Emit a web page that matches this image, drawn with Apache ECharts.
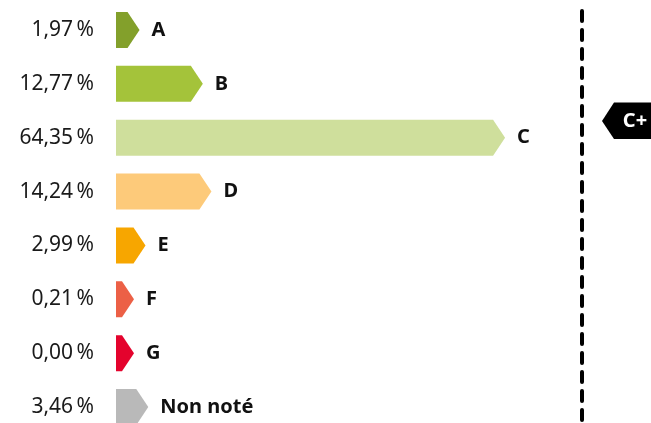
<!DOCTYPE html>
<html>
<head>
<meta charset="utf-8">
<script src="https://cdn.jsdelivr.net/npm/echarts@6/dist/echarts.min.js"></script>
<style>
  html, body { margin: 0; padding: 0; background: #fff; }
  #chart { width: 651px; height: 423px; }
</style>
</head>
<body>
<div id="chart"></div>
<script>
// grades, share of each grade (%) and the bar colour
const grades = ["A", "B", "C", "D", "E", "F", "G", "Non noté"];
const shares = [1.97, 12.77, 64.35, 14.24, 2.99, 0.21, 0.0, 3.46];
const gradeColors = ["#83a02b", "#a4c33a", "#cfdf9c", "#fdca7a", "#f7a600", "#ec6046", "#e4032d", "#b9b9b9"];
const overallGrade = "C+";

const fmtPct = (v) => v.toFixed(2).replace(".", ",") + "\u202f%";

const chart = echarts.init(document.getElementById("chart"));

const renderBar = (params, api) => {
  const idx = api.value(1);
  const start = api.coord([0, idx]);
  const end = api.coord([api.value(0), idx]);
  const h = api.size([0, 1])[1] * 0.67;
  const w = Math.max(end[0] - start[0], 6);
  const tip = 12;
  const x0 = start[0], y0 = start[1] - h / 2, y1 = start[1] + h / 2;
  return {
    type: "group",
    children: [
      {
        type: "polygon",
        shape: {
          points: [[x0, y0], [x0 + w, y0], [x0 + w + tip, start[1]], [x0 + w, y1], [x0, y1]]
        },
        style: { fill: gradeColors[params.dataIndex] }
      },
      {
        type: "text",
        x: x0 + w + tip + 12,
        y: start[1],
        style: {
          text: grades[params.dataIndex],
          fill: "#111",
          font: "bold 20px 'Noto Sans'",
          verticalAlign: "middle",
          align: "left"
        }
      }
    ]
  };
};

const option = {
  animation: false,
  grid: { left: 116, top: 3, width: 586, height: 431, outerBoundsMode: "none", containLabel: false },
  xAxis: { type: "value", min: 0, max: 100, show: false },
  yAxis: {
    type: "category",
    inverse: true,
    data: grades,
    axisLine: { show: false },
    axisTick: { show: false },
    splitLine: { show: false },
    axisLabel: {
      margin: 22,
      color: "#1a1a1a",
      fontFamily: "Noto Sans",
      fontSize: 21,
      formatter: (val, i) => fmtPct(shares[i])
    }
  },
  series: [
    {
      type: "custom",
      renderItem: renderBar,
      encode: { x: 0, y: 1 },
      data: shares.map((v, i) => [v, i])
    }
  ],
  graphic: [
    {
      type: "line",
      shape: { x1: 582, y1: 11, x2: 582, y2: 430 },
      style: { stroke: "#000", lineWidth: 4, lineDash: [10, 9], lineCap: "round" }
    },
    {
      type: "polygon",
      shape: { points: [[602, 121], [614, 102.5], [651, 102.5], [651, 139], [614, 139]] },
      style: { fill: "#000" }
    },
    {
      type: "text",
      x: 635,
      y: 121,
      style: {
        text: overallGrade,
        fill: "#fff",
        font: "bold 20px 'Noto Sans'",
        align: "center",
        verticalAlign: "middle"
      }
    }
  ]
};

chart.setOption(option);
</script>
</body>
</html>
